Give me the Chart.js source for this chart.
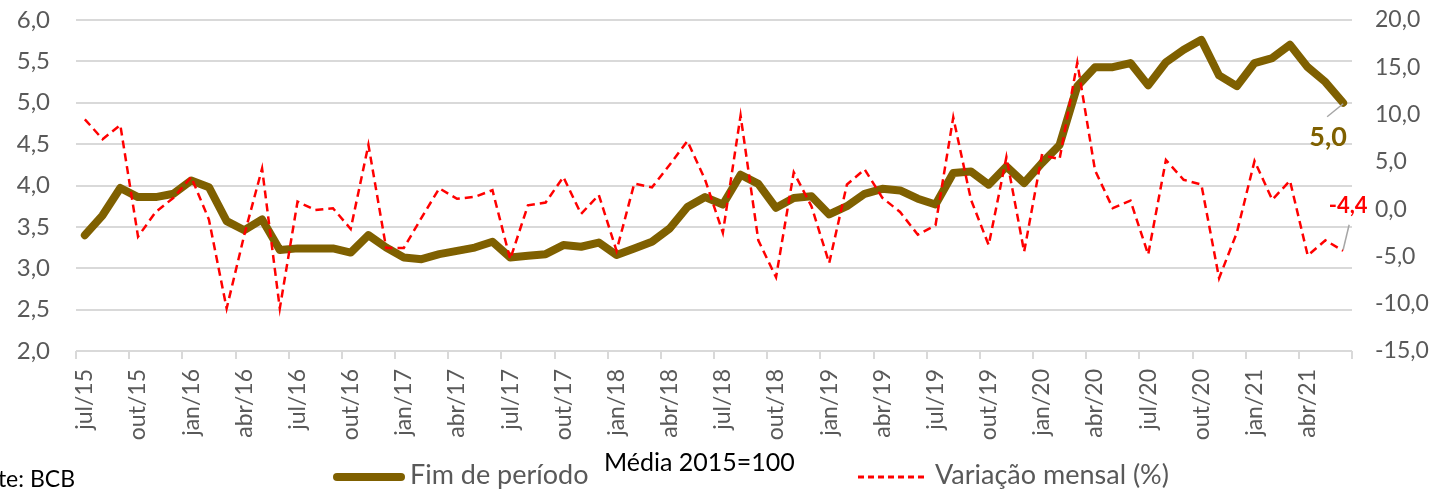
<!DOCTYPE html>
<html lang="pt-BR">
<head>
<meta charset="utf-8">
<title>Fim de período e variação mensal</title>
<script src="https://cdn.jsdelivr.net/npm/chart.js@4.4.1/dist/chart.umd.min.js"></script>
<style>
  html, body { margin: 0; padding: 0; background: #ffffff; overflow: hidden; }
  #wrap { position: relative; width: 1433px; height: 491px; overflow: hidden; }
  #chart { position: absolute; left: 0; top: 0; }
  .txt { position: absolute; white-space: nowrap; font-family: 'Lato', 'Noto Sans', sans-serif; line-height: 1; }
  .legend-text { color: #595959; font-size: 27px; }
  #brownKey { position: absolute; left: 333px; top: 473px; width: 72px; height: 8px; border-radius: 4px; background: #7f6000; }
  #redKey { position: absolute; left: 858px; top: 475px; }
</style>
</head>
<body>
<div id="wrap">
  <canvas id="chart" width="1433" height="491"></canvas>
  <div id="brownKey"></div>
  <div class="txt legend-text" style="left:410px; top:460px;">Fim de período</div>
  <div class="txt" style="left:604px; top:449px; font-size:25px; color:#000000;">Média 2015=100</div>
  <svg id="redKey" width="70" height="4"><line x1="0" y1="2" x2="70" y2="2" stroke="#ff0000" stroke-width="3" stroke-dasharray="6 4"/></svg>
  <div class="txt legend-text" style="left:935px; top:460px;">Variação mensal (%)</div>
  <div class="txt" style="right:1358px; top:467px; font-size:23px; color:#000000;">Fonte: BCB</div>
</div>
<script>
// Monthly categories, jul/2015 to jun/2021
const months = [
  'jul/15','ago/15','set/15','out/15','nov/15','dez/15',
  'jan/16','fev/16','mar/16','abr/16','mai/16','jun/16','jul/16','ago/16','set/16','out/16','nov/16','dez/16',
  'jan/17','fev/17','mar/17','abr/17','mai/17','jun/17','jul/17','ago/17','set/17','out/17','nov/17','dez/17',
  'jan/18','fev/18','mar/18','abr/18','mai/18','jun/18','jul/18','ago/18','set/18','out/18','nov/18','dez/18',
  'jan/19','fev/19','mar/19','abr/19','mai/19','jun/19','jul/19','ago/19','set/19','out/19','nov/19','dez/19',
  'jan/20','fev/20','mar/20','abr/20','mai/20','jun/20','jul/20','ago/20','set/20','out/20','nov/20','dez/20',
  'jan/21','fev/21','mar/21','abr/21','mai/21','jun/21'
];

// End-of-period level (left axis)
const fimDePeriodo = [
  3.40, 3.64, 3.97, 3.86, 3.86, 3.90,
  4.06, 3.98, 3.57, 3.46, 3.59, 3.22, 3.24, 3.24, 3.24, 3.19, 3.40, 3.25,
  3.13, 3.11, 3.17, 3.21, 3.25, 3.32, 3.13, 3.15, 3.17, 3.28, 3.26, 3.31,
  3.16, 3.24, 3.32, 3.48, 3.74, 3.86, 3.77, 4.13, 4.02, 3.73, 3.85, 3.87,
  3.65, 3.75, 3.90, 3.96, 3.94, 3.84, 3.77, 4.15, 4.17, 4.01, 4.23, 4.03,
  4.27, 4.49, 5.20, 5.43, 5.43, 5.48, 5.21, 5.49, 5.64, 5.76, 5.33, 5.20,
  5.48, 5.54, 5.70, 5.43, 5.25, 5.00
];

// Monthly change in % (right axis)
const variacaoMensal = [
  9.5, 7.4, 8.9, -2.9, -0.3, 1.2,
  3.4, -1.1, -10.5, -2.7, 4.3, -10.5, 0.8, -0.1, 0.1, -2.1, 6.8, -4.1,
  -4.1, -0.9, 2.2, 1.1, 1.3, 2.0, -5.3, 0.4, 0.7, 3.4, -0.5, 1.5,
  -4.4, 2.7, 2.3, 4.7, 7.2, 3.1, -2.5, 9.9, -3.3, -7.2, 3.9, 0.3,
  -5.7, 2.6, 4.2, 1.2, -0.3, -2.7, -1.7, 9.7, 1.0, -3.8, 5.5, -4.5,
  5.7, 5.3, 15.5, 4.1, 0.1, 0.9, -4.8, 5.2, 3.1, 2.6, -7.3, -2.5,
  5.1, 1.0, 3.0, -4.9, -3.3, -4.4
];

const BROWN = '#7f6000';
const RED = '#ff0000';
const GRID = '#d9d9d9';
const AXIS_TEXT = '#595959';
const FONT = "'Lato', 'Noto Sans', sans-serif";

const fmt = v => v.toFixed(1).replace('.', ',');

// Value callouts for the last point of each series
const endLabelStyle = [
  { color: BROWN, size: 27, dx: -15, dy: 35, lx: -16, ly: 14 },
  { color: RED,   size: 22, dx: 5,   dy: -45, lx: 6,  ly: -26 }
];

const endLabels = {
  id: 'endLabels',
  afterDatasetsDraw(chart) {
    const ctx = chart.ctx;
    chart.data.datasets.forEach((ds, i) => {
      const meta = chart.getDatasetMeta(i);
      const pt = meta.data[meta.data.length - 1];
      const st = endLabelStyle[i];
      const value = ds.data[ds.data.length - 1];
      ctx.save();
      ctx.strokeStyle = '#a6a6a6';
      ctx.lineWidth = 1.5;
      ctx.beginPath();
      ctx.moveTo(pt.x, pt.y + (st.ly > 0 ? 1 : -1));
      ctx.lineTo(pt.x + st.lx, pt.y + st.ly);
      ctx.stroke();
      ctx.fillStyle = st.color;
      ctx.font = 'bold ' + st.size + 'px ' + FONT;
      ctx.textAlign = 'center';
      ctx.textBaseline = 'middle';
      ctx.fillText(fmt(value), pt.x + st.dx, pt.y + st.dy);
      ctx.restore();
    });
  }
};

// Both value axes share the same plot band: top edge 20px below the canvas top
const fixVertical = width => s => {
  s.width = width;
  s.paddingTop = 20;
  s.paddingBottom = 0;
};

new Chart(document.getElementById('chart'), {
  type: 'line',
  data: {
    labels: months,
    datasets: [
      {
        label: 'Fim de período',
        data: fimDePeriodo,
        yAxisID: 'y',
        borderColor: BROWN,
        backgroundColor: BROWN,
        borderWidth: 8,
        borderJoinStyle: 'round',
        borderCapStyle: 'round',
        pointRadius: 0,
        tension: 0,
        order: 1
      },
      {
        label: 'Variação mensal (%)',
        data: variacaoMensal,
        yAxisID: 'y1',
        borderColor: RED,
        backgroundColor: RED,
        borderWidth: 2.5,
        borderDash: [8, 5],
        pointRadius: 0,
        tension: 0,
        order: 0
      }
    ]
  },
  options: {
    responsive: false,
    animation: false,
    devicePixelRatio: 1,
    layout: { padding: 0 },
    plugins: {
      legend: { display: false },
      tooltip: { enabled: false }
    },
    scales: {
      x: {
        type: 'category',
        offset: true,
        afterFit: s => { s.height = 140; },
        grid: {
          offset: true,
          drawOnChartArea: false,
          drawTicks: true,
          tickLength: 8,
          lineWidth: 2,
          color: c => (c.type !== 'tick' || c.index % 3 === 0) ? GRID : 'rgba(0,0,0,0)'
        },
        border: { display: false },
        ticks: {
          autoSkip: false,
          minRotation: 90,
          maxRotation: 90,
          padding: 10,
          color: AXIS_TEXT,
          font: { family: FONT, size: 23 },
          callback: (v, i) => (i % 3 === 0 ? months[i] : '')
        }
      },
      y: {
        position: 'left',
        min: 2,
        max: 6,
        afterFit: fixVertical(76),
        grid: { color: GRID, lineWidth: 2, drawTicks: false },
        border: { display: false },
        ticks: {
          stepSize: 0.5,
          padding: 26,
          color: AXIS_TEXT,
          font: { family: FONT, size: 24 },
          callback: v => fmt(v)
        }
      },
      y1: {
        position: 'right',
        min: -15,
        max: 20,
        afterFit: fixVertical(81),
        grid: { display: false, drawOnChartArea: false, drawTicks: false },
        border: { display: false },
        ticks: {
          stepSize: 5,
          padding: 23,
          color: AXIS_TEXT,
          font: { family: FONT, size: 23 },
          callback: v => fmt(v)
        }
      }
    }
  },
  plugins: [endLabels]
});
</script>
</body>
</html>
